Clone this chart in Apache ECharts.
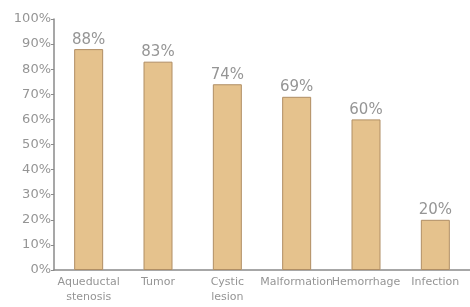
<!DOCTYPE html>
<html>
<head>
<meta charset="utf-8">
<script src="https://cdn.jsdelivr.net/npm/echarts@6/dist/echarts.min.js"></script>
<style>
html,body{margin:0;padding:0;background:#fff;}
#chart{width:470px;height:307px;}
</style>
</head>
<body>
<div id="chart"></div>
<script>
var categories = ['Aqueductal\nstenosis', 'Tumor', 'Cystic\nlesion', 'Malformation', 'Hemorrhage', 'Infection'];
var values = [88, 83, 74, 69, 60, 20];
var yTicks = [0, 10, 20, 30, 40, 50, 60, 70, 80, 90, 100];

var chart = echarts.init(document.getElementById('chart'));
var option = {
    animation: false,
    grid: {
        left: 54,
        right: -2,
        top: 19,
        bottom: 37
    },
    xAxis: {
        type: 'category',
        data: categories,
        axisLine: { lineStyle: { color: '#8a8a8a', width: 1.5 } },
        axisTick: { show: false },
        axisLabel: {
            color: '#959595',
            fontSize: 11,
            fontFamily: 'DejaVu Sans',
            lineHeight: 15,
            margin: 5,
            interval: 0
        }
    },
    yAxis: {
        type: 'value',
        min: yTicks[0],
        max: yTicks[yTicks.length - 1],
        interval: 10,
        axisLine: { show: true, lineStyle: { color: '#8a8a8a', width: 1.5 } },
        axisTick: { show: true, length: 3, lineStyle: { color: '#8a8a8a' } },
        splitLine: { show: false },
        axisLabel: {
            color: '#959595',
            fontSize: 13,
            fontFamily: 'DejaVu Sans',
            margin: 3,
            formatter: '{value}%'
        }
    },
    series: [{
        type: 'bar',
        data: values,
        barWidth: 29,
        itemStyle: {
            color: '#e5c28d',
            borderColor: '#b08e64',
            borderWidth: 1
        },
        label: {
            show: true,
            position: 'top',
            color: '#959595',
            fontSize: 15,
            fontFamily: 'DejaVu Sans',
            distance: 2,
            formatter: '{c}%'
        }
    }]
};
chart.setOption(option);
</script>
</body>
</html>
